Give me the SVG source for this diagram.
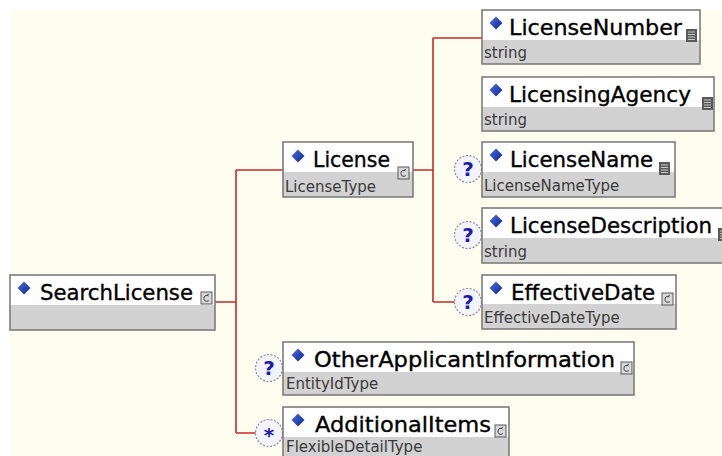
<svg xmlns="http://www.w3.org/2000/svg" xmlns:xlink="http://www.w3.org/1999/xlink" width="722" height="456" viewBox="0 0 722 456">
<style>
.bg{fill:#fefef0}
.top{fill:#ffffff}
.bot{fill:#d2d2d2}
.frame{fill:none;stroke:#7c7c7c;stroke-width:1.6}
.title{font-family:"DejaVu Sans","Liberation Sans",sans-serif;font-size:21px;fill:#000;stroke:#000;stroke-width:0.35}
.sub{font-family:"DejaVu Sans","Liberation Sans",sans-serif;font-size:15px;fill:#3a3a3a}
.conn{fill:none;stroke:#c62a2a;stroke-width:1.6}
.occ{fill:#f3f3fb;stroke:#8a8a9a;stroke-width:1.2;stroke-dasharray:2 1.6}
.occt{font-family:"DejaVu Sans","Liberation Sans",sans-serif;font-size:20px;font-weight:bold;fill:#1c1ca8;text-anchor:middle}
</style>
<defs>
<linearGradient id="dg" x1="0" y1="0" x2="1" y2="1">
<stop offset="0" stop-color="#4d6fe0"/>
<stop offset="1" stop-color="#10248a"/>
</linearGradient>
<polygon id="dia" points="0,-6.5 6.5,0 0,6.5 -6.5,0" fill="url(#dg)"/>
<g id="cplx">
<rect x="0" y="0" width="11" height="12" fill="#d8d8d8" stroke="#5a5a5a" stroke-width="1"/>
<path d="M7.5,4 C6,2.8 3,3.2 3,6.5 C3,9.5 6,9.8 7.8,8.6 M5.5,4.2 L7.8,1.8" fill="none" stroke="#333" stroke-width="1"/>
</g>
<g id="smpl">
<rect x="0" y="0" width="11" height="13" fill="#5a5a5a"/>
<path d="M2,3 H9 M2,5.5 H9 M2,8 H9 M2,10.5 H9" stroke="#c8c8c8" stroke-width="1"/>
</g>
</defs>
<rect x="0" y="0" width="722" height="456" fill="#ffffff"/>
<rect class="bg" x="10" y="10" width="712" height="446"/>

<g id="connectors">
<path class="conn" d="M215,302 H236 M236,170 V433 M236,170 H283 M236,433 H256"/>
<path class="conn" d="M413,170 H433 M433,38 V302 M433,38 H482 M433,302 H455"/>
</g>

<g id="SearchLicense">
<rect class="top" x="10" y="275" width="205" height="30"/>
<rect class="bot" x="10" y="305" width="205" height="25"/>
<rect class="frame" x="10" y="275" width="205" height="55"/>
<use xlink:href="#dia" x="24" y="288"/>
<text class="title" x="40" y="300" textLength="153" lengthAdjust="spacingAndGlyphs">SearchLicense</text>
<use xlink:href="#cplx" x="201" y="292"/>
</g>

<g id="License">
<rect class="top" x="283" y="142" width="130" height="30"/>
<rect class="bot" x="283" y="172" width="130" height="25"/>
<rect class="frame" x="283" y="142" width="130" height="55"/>
<use xlink:href="#dia" x="298" y="156"/>
<text class="title" x="313" y="167" textLength="77" lengthAdjust="spacingAndGlyphs">License</text>
<use xlink:href="#cplx" x="398" y="167"/>
<text class="sub" x="285" y="192">LicenseType</text>
</g>

<g id="LicenseNumber">
<rect class="top" x="482" y="10" width="218" height="30"/>
<rect class="bot" x="482" y="40" width="218" height="24"/>
<rect class="frame" x="482" y="10" width="218" height="54"/>
<use xlink:href="#dia" x="496" y="23"/>
<text class="title" x="509" y="35" textLength="173" lengthAdjust="spacingAndGlyphs">LicenseNumber</text>
<use xlink:href="#smpl" x="686" y="29"/>
<text class="sub" x="484" y="58">string</text>
</g>

<g id="LicensingAgency">
<rect class="top" x="482" y="77" width="232" height="30"/>
<rect class="bot" x="482" y="107" width="232" height="24"/>
<rect class="frame" x="482" y="77" width="232" height="54"/>
<use xlink:href="#dia" x="496" y="90"/>
<text class="title" x="509" y="102" textLength="182" lengthAdjust="spacingAndGlyphs">LicensingAgency</text>
<use xlink:href="#smpl" x="702" y="97"/>
<text class="sub" x="484" y="125">string</text>
</g>

<g id="LicenseName">
<circle class="occ" cx="468" cy="169" r="13.5"/>
<text class="occt" x="468" y="176">?</text>
<rect class="top" x="482" y="142" width="193" height="30"/>
<rect class="bot" x="482" y="172" width="193" height="25"/>
<rect class="frame" x="482" y="142" width="193" height="55"/>
<use xlink:href="#dia" x="496" y="155"/>
<text class="title" x="510" y="167" textLength="143" lengthAdjust="spacingAndGlyphs">LicenseName</text>
<use xlink:href="#smpl" x="659" y="162"/>
<text class="sub" x="484" y="191">LicenseNameType</text>
</g>

<g id="LicenseDescription">
<circle class="occ" cx="468" cy="235" r="13.5"/>
<text class="occt" x="468" y="242">?</text>
<rect class="top" x="482" y="208" width="250" height="30"/>
<rect class="bot" x="482" y="238" width="250" height="25"/>
<rect class="frame" x="482" y="208" width="250" height="55"/>
<use xlink:href="#dia" x="496" y="221"/>
<text class="title" x="510" y="233" textLength="202" lengthAdjust="spacingAndGlyphs">LicenseDescription</text>
<use xlink:href="#smpl" x="718" y="228"/>
<text class="sub" x="484" y="257">string</text>
</g>

<g id="EffectiveDate">
<circle class="occ" cx="468" cy="302" r="13.5"/>
<text class="occt" x="468" y="309">?</text>
<rect class="top" x="482" y="275" width="194" height="29"/>
<rect class="bot" x="482" y="304" width="194" height="25"/>
<rect class="frame" x="482" y="275" width="194" height="54"/>
<use xlink:href="#dia" x="496" y="288"/>
<text class="title" x="511" y="300" textLength="144" lengthAdjust="spacingAndGlyphs">EffectiveDate</text>
<use xlink:href="#cplx" x="662" y="293"/>
<text class="sub" x="484" y="323">EffectiveDateType</text>
</g>

<g id="OtherApplicantInformation">
<circle class="occ" cx="269" cy="368" r="13.5"/>
<text class="occt" x="269" y="375">?</text>
<rect class="top" x="283" y="342" width="351" height="30"/>
<rect class="bot" x="283" y="372" width="351" height="23"/>
<rect class="frame" x="283" y="342" width="351" height="53"/>
<use xlink:href="#dia" x="298" y="355"/>
<text class="title" x="314" y="367" textLength="301" lengthAdjust="spacingAndGlyphs">OtherApplicantInformation</text>
<use xlink:href="#cplx" x="621" y="362"/>
<text class="sub" x="286" y="389">EntityIdType</text>
</g>

<g id="AdditionalItems">
<circle class="occ" cx="269" cy="433" r="13.5"/>
<text class="occt" x="269" y="442">*</text>
<rect class="top" x="283" y="407" width="226" height="30"/>
<rect class="bot" x="283" y="437" width="226" height="25"/>
<rect class="frame" x="283" y="407" width="226" height="55"/>
<use xlink:href="#dia" x="298" y="420"/>
<text class="title" x="315" y="432" textLength="176" lengthAdjust="spacingAndGlyphs">AdditionalItems</text>
<use xlink:href="#cplx" x="495" y="425"/>
<text class="sub" x="286" y="452">FlexibleDetailType</text>
</g>
</svg>
